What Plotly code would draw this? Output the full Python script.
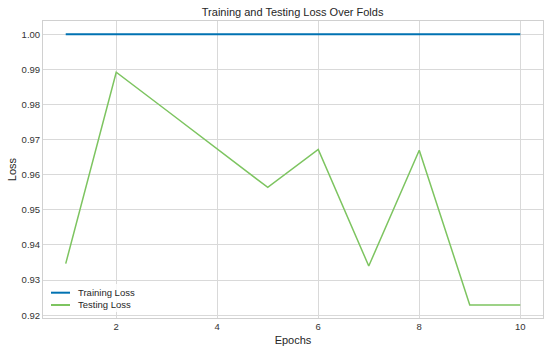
import plotly.graph_objects as go

epochs = [1, 2, 3, 4, 5, 6, 7, 8, 9, 10]
training_loss = [1.0, 1.0, 1.0, 1.0, 1.0, 1.0, 1.0, 1.0, 1.0, 1.0]
testing_loss = [0.9347, 0.9892, 0.9783, 0.9674, 0.9564, 0.9672, 0.9340, 0.9670, 0.9229, 0.9229]
x_ticks = [2, 4, 6, 8, 10]
y_ticks = [0.92, 0.93, 0.94, 0.95, 0.96, 0.97, 0.98, 0.99, 1.00]
series_names = ["Training Loss", "Testing Loss"]
series_colors = ["#0072B2", "#7DC460"]
series_widths = [2, 1.5]

fig = go.Figure()
for name, ys, col, w in zip(series_names, [training_loss, testing_loss], series_colors, series_widths):
    fig.add_trace(go.Scatter(x=epochs, y=ys, mode="lines", name=name,
                             line=dict(color=col, width=w), showlegend=False))

# legend box drawn in paper coordinates (matplotlib-style compact legend)
fig.add_shape(type="rect", xref="paper", yref="paper", x0=0.006, x1=0.19, y0=0.02, y1=0.1145,
              fillcolor="rgba(255,255,255,0.8)", line=dict(width=0), layer="above")
legend_y = [0.0852, 0.0438]
for name, col, ly in zip(series_names, series_colors, legend_y):
    fig.add_shape(type="line", xref="paper", yref="paper", x0=0.016, x1=0.054, y0=ly, y1=ly,
                  line=dict(color=col, width=2), layer="above")
    fig.add_annotation(text=name, xref="paper", yref="paper", x=0.066, y=ly, xanchor="left",
                       yanchor="middle", showarrow=False,
                       font=dict(size=9.5, color="#262626"))

font_family = "Liberation Sans, Arial, sans-serif"
fig.update_layout(
    width=550, height=350,
    margin=dict(l=43, r=7, t=21, b=32, autoexpand=False),
    paper_bgcolor="white", plot_bgcolor="white",
    font=dict(family=font_family, size=10, color="#262626"),
    title=dict(text="Training and Testing Loss Over Folds", x=0.532, xanchor="center",
               y=0.965, yanchor="middle", font=dict(size=11, color="#262626")),
    showlegend=False,
    hovermode=False,
    xaxis=dict(range=[0.55, 10.45], tickvals=x_ticks, ticktext=[str(v) for v in x_ticks],
               automargin=False,
               showgrid=True, gridcolor="#d9d9d9", gridwidth=1, zeroline=False,
               showline=True, linecolor="#d0d0d0", linewidth=1, mirror=True,
               tickfont=dict(size=9.5, color="#333333"), ticks="",
               title=dict(text="Epochs", font=dict(size=11, color="#262626"), standoff=4)),
    yaxis=dict(range=[0.9192, 1.0038], tickvals=y_ticks, ticktext=[f"{v:.2f}" for v in y_ticks],
               automargin=False,
               showgrid=True, gridcolor="#d9d9d9", gridwidth=1, zeroline=False,
               showline=True, linecolor="#d0d0d0", linewidth=1, mirror=True,
               tickfont=dict(size=9.5, color="#333333"), ticks="",
               title=dict(text="Loss", font=dict(size=11, color="#262626"), standoff=2)),
)

fig.write_html("out.html", config={"displayModeBar": False},
               post_script="document.body.style.margin='0';")
